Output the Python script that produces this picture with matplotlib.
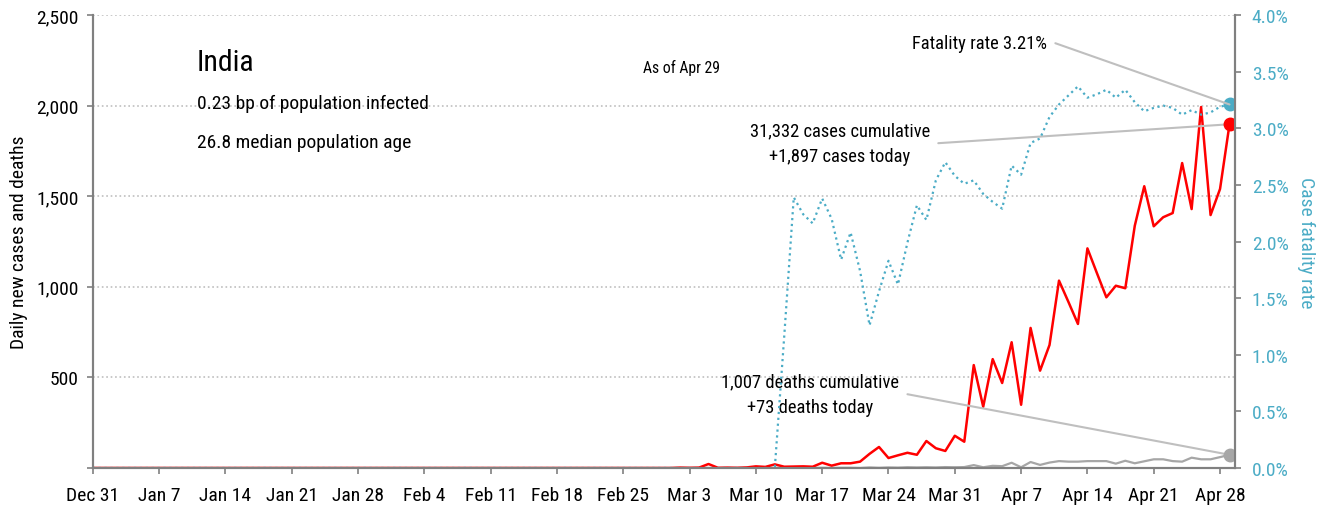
import matplotlib
matplotlib.use("Agg")
import matplotlib.pyplot as plt
import numpy as np
import pandas as pd

# daily series, Dec 31 2019 .. Apr 29 2020 (values before Mar 1 are zero)
dates = pd.date_range("2019-12-31", "2020-04-29", freq="D")
n_before_mar = 61

# Mar 1 .. Apr 29
cases_mar_apr = [0, 2, 1, 2, 22, 1, 2, 1, 3, 9, 6, 20, 7, 8, 9, 7, 29, 13, 26, 26,
                 35, 78, 116, 55, 70, 84, 73, 149, 109, 94, 178, 145, 568, 338, 601,
                 469, 694, 349, 773, 537, 679, 1034, 916, 795, 1212, 1076, 942, 1006,
                 992, 1337, 1555, 1334, 1384, 1407, 1683, 1429, 1992, 1396, 1540, 1897]
deaths_mar_apr = [0, 0, 0, 0, 0, 0, 0, 0, 0, 0, 0, 0, 1, 1, 0, 0, 1, 0, 1, 1,
                  0, 3, 1, 3, 2, 4, 3, 4, 3, 5, 4, 5, 16, 4, 12, 10, 29, 4, 33, 17,
                  30, 38, 35, 35, 38, 38, 38, 24, 40, 26, 37, 48, 48, 38, 35, 57, 48,
                  48, 60, 73]
# case fatality rate, percent
cfr_mar_apr = [0, 0, 0, 0, 0, 0, 0, 0, 0, 0, 0, 0, 1.17, 2.39, 2.24, 2.16, 2.38, 2.20,
               1.84, 2.08, 1.74, 1.26, 1.56, 1.83, 1.62, 1.99, 2.32, 2.19, 2.54, 2.70,
               2.58, 2.51, 2.54, 2.42, 2.35, 2.29, 2.67, 2.59, 2.87, 2.91, 3.10, 3.21,
               3.29, 3.37, 3.27, 3.30, 3.34, 3.27, 3.34, 3.23, 3.15, 3.18, 3.20, 3.18,
               3.12, 3.16, 3.12, 3.14, 3.19, 3.21]

cases = np.r_[np.zeros(n_before_mar), cases_mar_apr]
deaths = np.r_[np.zeros(n_before_mar), deaths_mar_apr]
cfr = np.r_[np.zeros(n_before_mar), cfr_mar_apr]

tick_dates = pd.date_range("2019-12-31", "2020-04-28", freq="7D")
tick_labels = [f"{d:%b} {d.day}" for d in tick_dates]

RED = "#ff0000"
BLUE = "#4bacc6"
GREY = "#a6a6a6"
LINE = "#bfbfbf"
AXIS = "#808080"

plt.rcParams["font.family"] = ["Roboto Condensed", "Archivo Narrow", "DejaVu Sans"]

fig = plt.figure(figsize=(13.27, 5.10), dpi=100)
ax = fig.add_axes([0.0699, 0.0804, 0.8608, 0.8882])
ax2 = ax.twinx()

ax.plot(dates, deaths, color=GREY, lw=1.6, zorder=2)
ax.plot(dates, cases, color=RED, lw=1.8, zorder=3)
ax.plot(dates[-1], deaths[-1], "o", color=GREY, ms=9, zorder=4)
ax.plot(dates[-1], cases[-1], "o", color=RED, ms=9, zorder=4)
ax2.plot(dates, cfr, color=BLUE, lw=1.6, ls=":")
ax2.plot(dates[-1], cfr[-1], "o", color=BLUE, ms=9)

ax.set_xlim(dates[0], dates[-1] + pd.Timedelta(hours=14))
ax.set_ylim(0, 2500)
ax2.set_ylim(0, 4)

ax.set_xticks(tick_dates)
ax.set_xticklabels(tick_labels)
ax.set_yticks(range(0, 2501, 500))
ax.set_yticklabels([f"{v:,}" if v else "" for v in range(0, 2501, 500)])
ax2.set_yticks(np.arange(0, 4.01, 0.5))
ax2.set_yticklabels([f"{v:.1f}%" for v in np.arange(0, 4.01, 0.5)])

ax.yaxis.grid(True, color=LINE, ls=":", lw=1.2)
ax.set_axisbelow(True)

for a in (ax, ax2):
    a.spines["top"].set_visible(False)
    for s in ("left", "right", "bottom"):
        a.spines[s].set_color(AXIS)
        a.spines[s].set_linewidth(1.5)
ax.tick_params(axis="both", colors=AXIS, labelcolor="black", labelsize=14,
               length=4, width=1.2)
ax.tick_params(axis="x", pad=9)
ax.tick_params(axis="y", pad=6)
ax2.tick_params(axis="y", colors=AXIS, labelcolor=BLUE, labelsize=14,
                length=4, width=1.2, pad=8)

ax.set_ylabel("Daily new cases and deaths", fontsize=14)
ax.yaxis.set_label_coords(-0.057, 0.5)
ax2.set_ylabel("Case fatality rate", fontsize=14, color=BLUE, rotation=270, va="center")
ax2.yaxis.set_label_coords(1.062, 0.5)

ax.text(0.0913, 0.896, "India", transform=ax.transAxes, fontsize=21.5, va="center")
ax.text(0.0913, 0.806, "0.23 bp of population infected", transform=ax.transAxes,
        fontsize=14, va="center")
ax.text(0.0913, 0.72, "26.8 median population age", transform=ax.transAxes,
        fontsize=14, va="center")
ax.text(0.4818, 0.885, "As of Apr 29", transform=ax.transAxes, fontsize=11.3, va="center")

conn = "arc,angleA=0,armA=8,angleB=0,armB=0,rad=0"
ax2.annotate("Fatality rate 3.21%", xy=(dates[-1], cfr[-1]),
             xytext=(0.8354, 0.938), textcoords="axes fraction",
             ha="right", va="center", fontsize=13.3,
             arrowprops=dict(arrowstyle="-", color=LINE, lw=1.5, shrinkA=4, shrinkB=0,
                             relpos=(1, 0.5), connectionstyle=conn))
ax.annotate("31,332 cases cumulative\n+1,897 cases today", xy=(dates[-1], cases[-1]),
            xytext=(0.654, 0.717), textcoords="axes fraction",
            ha="center", va="center", fontsize=13.3, linespacing=1.6,
            arrowprops=dict(arrowstyle="-", color=LINE, lw=1.5, shrinkA=4, shrinkB=0,
                            relpos=(1, 0.5), connectionstyle=conn))
ax.annotate("1,007 deaths cumulative\n+73 deaths today", xy=(dates[-1], deaths[-1]),
            xytext=(0.628, 0.163), textcoords="axes fraction",
            ha="center", va="center", fontsize=13.3, linespacing=1.6,
            arrowprops=dict(arrowstyle="-", color=LINE, lw=1.5, shrinkA=4, shrinkB=0,
                            relpos=(1, 0.5), connectionstyle=conn))

fig.savefig("out.png", dpi=100)
